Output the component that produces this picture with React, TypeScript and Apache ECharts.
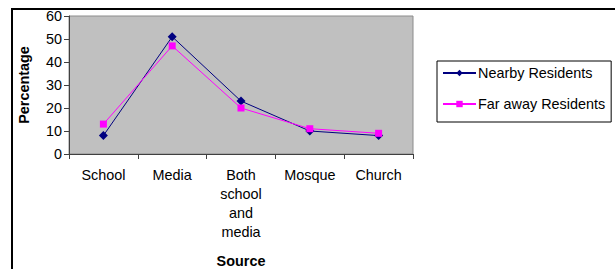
import React, { useEffect, useRef } from "react";
import * as echarts from "echarts";

const categories = ["School", "Media", "Both\nschool\nand\nmedia", "Mosque", "Church"];
const nearbyResidents = [8, 51, 23, 10, 8];
const farAwayResidents = [13, 47, 20, 11, 9];
const seriesNames = ["Nearby Residents", "Far away Residents"];
const yTicks = { min: 0, max: 60, interval: 10 };

const FONT = "Liberation Sans, Arial, sans-serif";
const FS = 14.4;

export default function App() {
  const ref = useRef<HTMLDivElement>(null);
  useEffect(() => {
    document.body.style.margin = "0";
    const chart = echarts.init(ref.current!, null, { renderer: "svg" });
    chart.setOption({
      animation: false,
      backgroundColor: "#ffffff",
      textStyle: { fontFamily: FONT },
      grid: {
        left: 69,
        top: 16,
        width: 344,
        height: 138,
        outerBoundsMode: "none",
        containLabel: false,
        show: true,
        backgroundColor: "#C0C0C0",
        borderColor: "#8c8c8c",
        borderWidth: 1,
      },
      legend: {
        orient: "vertical",
        left: 437,
        top: 61,
        padding: [5, 6, 11, 5],
        itemGap: 17,
        itemWidth: 33,
        itemHeight: 8,
        backgroundColor: "#ffffff",
        borderColor: "#000000",
        borderWidth: 1,
        borderRadius: 0,
        textStyle: { fontFamily: FONT, fontSize: FS, color: "#000", padding: [0, 0, 0, -3] },
        data: seriesNames,
      },
      xAxis: {
        type: "category",
        data: categories,
        boundaryGap: true,
        name: "Source",
        nameLocation: "middle",
        nameGap: 100,
        nameTextStyle: { fontFamily: FONT, fontSize: FS, fontWeight: "bold", color: "#000" },
        axisLine: { show: true, lineStyle: { color: "#404040", width: 1 } },
        axisTick: { show: true, inside: false, length: 5, lineStyle: { color: "#404040" } },
        axisLabel: {
          fontFamily: FONT,
          fontSize: FS,
          color: "#000",
          lineHeight: 19,
          margin: 11,
          interval: 0,
          verticalAlign: "top",
        },
        splitLine: { show: false },
      },
      yAxis: {
        type: "value",
        min: yTicks.min,
        max: yTicks.max,
        interval: yTicks.interval,
        name: "Percentage",
        nameLocation: "middle",
        nameGap: 38,
        nameRotate: 90,
        nameTextStyle: { fontFamily: FONT, fontSize: FS, fontWeight: "bold", color: "#000" },
        axisLine: { show: true, lineStyle: { color: "#404040", width: 1 } },
        axisTick: { show: true, inside: false, length: 5, lineStyle: { color: "#404040" } },
        axisLabel: { fontFamily: FONT, fontSize: FS, color: "#000", margin: 7 },
        splitLine: { show: false },
      },
      series: [
        {
          name: seriesNames[0],
          type: "line",
          data: nearbyResidents,
          symbol: "diamond",
          symbolSize: 9,
          itemStyle: { color: "#000080" },
          lineStyle: { color: "#000080", width: 1 },
        },
        {
          name: seriesNames[1],
          type: "line",
          data: farAwayResidents,
          symbol: "rect",
          symbolSize: 7,
          itemStyle: { color: "#FF00FF" },
          lineStyle: { color: "#FF00FF", width: 1 },
        },
      ],
      graphic: [
        {
          type: "line",
          shape: { x1: 11, y1: 9, x2: 615, y2: 9 },
          style: { stroke: "#000", lineWidth: 2 },
        },
        {
          type: "line",
          shape: { x1: 12, y1: 8, x2: 12, y2: 269 },
          style: { stroke: "#000", lineWidth: 2 },
        },
      ],
    });
    return () => chart.dispose();
  }, []);
  return (
    <div
      ref={ref}
      style={{ position: "fixed", left: 0, top: 0, width: 616, height: 269 }}
    />
  );
}
